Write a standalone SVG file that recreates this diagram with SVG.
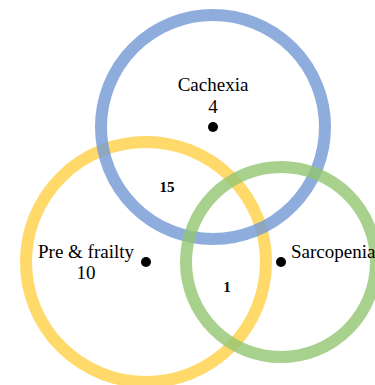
<svg xmlns="http://www.w3.org/2000/svg" width="375" height="385" viewBox="0 0 375 385">
<style>
.ring{fill:none;stroke-width:12;opacity:0.8}
.lbl{font-family:"Liberation Serif","Times New Roman",serif;font-size:19px;fill:#000}
.num{font-family:"Liberation Serif","Times New Roman",serif;font-size:15px;font-weight:bold;fill:#000}
.dot{fill:#000}
</style>
<rect width="375" height="385" fill="#fff"/>
<g id="connectors"></g>
<g id="prefrailty">
<circle class="ring" cx="146" cy="262" r="120" stroke="#FFD044"/>
</g>
<g id="cachexia">
<circle class="ring" cx="213" cy="127" r="112" stroke="#7298D4"/>
</g>
<g id="sarcopenia">
<circle class="ring" cx="281" cy="262" r="95" stroke="#93C572"/>
</g>
<g id="labels">
<circle class="dot" cx="213" cy="127" r="5"/>
<circle class="dot" cx="146" cy="262" r="5"/>
<circle class="dot" cx="281" cy="262" r="5"/>
<text class="lbl" x="213" y="91" text-anchor="middle">Cachexia</text>
<text class="lbl" x="213" y="113" text-anchor="middle">4</text>
<text class="lbl" x="86" y="258" text-anchor="middle">Pre &amp; frailty</text>
<text class="lbl" x="86" y="279" text-anchor="middle">10</text>
<text class="lbl" x="291" y="258">Sarcopenia</text>
<text class="num" x="167" y="192" text-anchor="middle">15</text>
<text class="num" x="227" y="292" text-anchor="middle">1</text>
</g>
</svg>
